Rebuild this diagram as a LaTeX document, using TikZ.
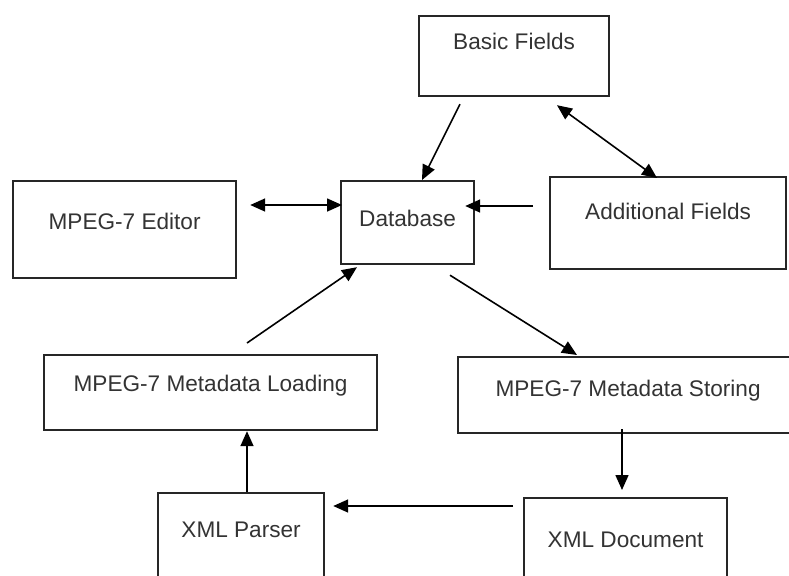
\documentclass[tikz,border=0pt]{standalone}
\usepackage{fontspec}
\setmainfont{Liberation Sans}
\usetikzlibrary{positioning}
\usetikzlibrary{arrows.meta}
\usetikzlibrary{calc}

\tikzset{
    block/.style n args={3}{draw=black!85, line width=1.1pt, anchor=north west,
        inner sep=0pt, minimum width=#1, text height=#2, text depth=#3,
        text=black!80, font=\fontsize{11.3}{13}\selectfont},
    link/.style={line width=0.8pt, black},
    >={Triangle[length=7.5pt,width=6.5pt]}
}

\begin{document}
\begin{tikzpicture}[x=0.5pt,y=-0.5pt]
        \useasboundingbox (0,0) rectangle (789,575);
        \node[block={95pt}{16.5pt}{23.5pt}] (basic) at (418,15) {Basic Fields};
        \node[block={111.5pt}{24pt}{24.5pt}] (editor) at (12,180) {MPEG-7 Editor};
        \node[block={66.5pt}{22.5pt}{19pt}] (database) at (340,180) {Database};
        \node[block={118pt}{21pt}{25pt}] (additional) at (549,176) {Additional Fields};
        \node[block={166.5pt}{18pt}{19.5pt}] (loading) at (43,354) {MPEG-7 Metadata Loading};
        \node[block={170pt}{19.5pt}{18.5pt}] (storing) at (457,356) {MPEG-7 Metadata Storing};
        \node[block={101.5pt}{24.5pt}{20.5pt}] (xmldoc) at (523,497) {XML Document};
        \node[block={83pt}{22pt}{25.5pt}] (parser) at (157,492) {XML Parser};

        \draw [link,->] ($(basic.south west)+(42,7)$) -- ($(database.north west)+(82,0)$);
        \draw [link,<->] ($(basic.south west)+(139,8)$) -- ($(additional.north west)+(108,2)$);
        \draw [link,->] ($(additional.north west)+(-16,30)$) -- ($(database.north east)+(-10,26)$);
        \draw [link,<->] ($(editor.north east)+(13,25)$) -- ($(database.north west)+(2,25)$);
        \draw [link,->] ($(database.south west)+(110,10)$) -- ($(storing.north west)+(120,-1)$);
        \draw [link,->] ($(storing.south west)+(165,-5)$) -- ($(xmldoc.north west)+(99,-7)$);
        \draw [link,->] ($(xmldoc.north west)+(-10,9)$) -- ($(parser.north east)+(8,14)$);
        \draw [link,->] ($(parser.north west)+(90,0)$) -- ($(loading.south west)+(204,0)$);
        \draw [link,->] ($(loading.north west)+(204,-11)$) -- ($(database.south west)+(17,2)$);
    \end{tikzpicture}
\end{document}
